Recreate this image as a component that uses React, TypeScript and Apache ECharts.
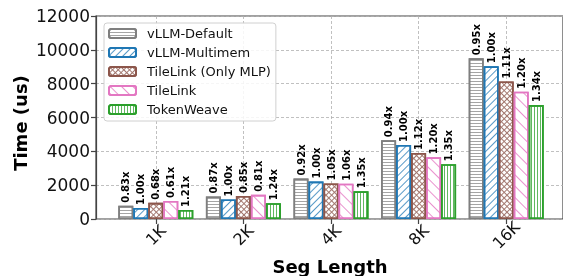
import React, { useEffect, useRef } from 'react';
import * as echarts from 'echarts';

const categories = ['1K', '2K', '4K', '8K', '16K'];
const seriesNames = ['vLLM-Default', 'vLLM-Multimem', 'TileLink (Only MLP)', 'TileLink', 'TokenWeave'];
const vllmDefault = [783, 1333, 2400, 4653, 9500];
const vllmMultimem = [650, 1160, 2210, 4374, 9027];
const tileLinkMlp = [956, 1365, 2105, 3905, 8132];
const tileLink = [1066, 1432, 2085, 3645, 7522];
const tokenWeave = [537, 935, 1637, 3240, 6736];
const speedupDefault = ['0.83x', '0.87x', '0.92x', '0.94x', '0.95x'];
const speedupMultimem = ['1.00x', '1.00x', '1.00x', '1.00x', '1.00x'];
const speedupTileLinkMlp = ['0.68x', '0.85x', '1.05x', '1.12x', '1.11x'];
const speedupTileLink = ['0.61x', '0.81x', '1.06x', '1.20x', '1.20x'];
const speedupTokenWeave = ['1.21x', '1.24x', '1.35x', '1.35x', '1.34x'];
const yMax = 12000;
const yInterval = 2000;

const FONT = 'DejaVu Sans';
const values = [vllmDefault, vllmMultimem, tileLinkMlp, tileLink, tokenWeave];
const labels = [speedupDefault, speedupMultimem, speedupTileLinkMlp, speedupTileLink, speedupTokenWeave];
const edgeColors = ['#7f7f7f', '#1f77b4', '#8c564b', '#e377c2', '#2ca02c'];
const decals: any[] = [
  { symbol: 'rect', symbolSize: 1, dashArrayX: [1, 0], dashArrayY: [1, 2], rotation: 0, color: 'rgba(127,127,127,0.7)', backgroundColor: '#fff' },
  { symbol: 'rect', symbolSize: 1, dashArrayX: [1, 4], dashArrayY: [1, 0], rotation: Math.PI / 4, color: 'rgba(31,119,180,0.75)', backgroundColor: '#fff' },
  { symbol: 'rect', symbolSize: 1, dashArrayX: [[1, 0], [1, 3], [1, 3], [1, 3]], dashArrayY: [1, 0], rotation: Math.PI / 4, color: 'rgba(140,86,75,0.8)', backgroundColor: '#fff' },
  { symbol: 'rect', symbolSize: 1, dashArrayX: [1, 7], dashArrayY: [1, 0], rotation: -Math.PI / 4, color: 'rgba(227,119,194,0.8)', backgroundColor: '#fff' },
  { symbol: 'rect', symbolSize: 1, dashArrayX: [1, 2], dashArrayY: [1, 0], rotation: 0, color: 'rgba(44,160,44,0.75)', backgroundColor: '#fff' },
];

export default function App() {
  const ref = useRef<HTMLDivElement>(null);
  useEffect(() => {
    const chart = echarts.init(ref.current!, null, { renderer: 'svg' });
    const series = seriesNames.map((name, i) => ({
      name,
      type: 'bar',
      xAxisIndex: 1,
      yAxisIndex: 1,
      barWidth: 15,
      barGap: '0%',
      data: values[i],
      itemStyle: {
        color: '#fff',
        borderColor: edgeColors[i],
        borderWidth: 1.6,
        decal: decals[i],
      },
      label: {
        show: true,
        position: 'top',
        rotate: 90,
        align: 'left',
        verticalAlign: 'middle',
        padding: [7, 0, 0, 0],
        distance: 3,
        fontSize: 10,
        fontWeight: 'bold',
        fontFamily: FONT,
        color: '#000',
        formatter: (p: any) => labels[i][p.dataIndex],
      },
    }));
    chart.setOption({
      animation: false,
      aria: { enabled: false },
      textStyle: { fontFamily: FONT },
      grid: [
        { left: 96, right: -3, top: 16, bottom: 57, show: true, borderColor: '#444', borderWidth: 1.2, backgroundColor: 'transparent' },
        { left: 112, right: 13, top: 16, bottom: 57 },
      ],
      xAxis: [
        { type: 'value', gridIndex: 0, show: false, min: 0, max: 1 },
        {
          type: 'category',
          gridIndex: 1,
          data: categories,
          axisLine: { show: false },
          axisTick: { show: true, alignWithLabel: true, length: 5, lineStyle: { color: '#444', width: 1.2 } },
          axisLabel: { rotate: 45, align: 'center', verticalAlign: 'middle', margin: 16, fontSize: 16, color: '#111', fontFamily: FONT },
          splitLine: { show: true, alignWithLabel: true, lineStyle: { color: '#b0b0b0', type: [3, 2], width: 0.8 } },
        },
      ],
      yAxis: [
        {
          type: 'value',
          gridIndex: 0,
          min: 0,
          max: yMax,
          interval: yInterval,
          axisLine: { show: true, lineStyle: { color: '#444', width: 1.2 } },
          axisTick: { show: true, length: 5, lineStyle: { color: '#444', width: 1.2 } },
          axisLabel: { fontSize: 17, color: '#111', margin: 6, fontFamily: FONT, formatter: (v: number) => String(v) },
          splitLine: { show: true, lineStyle: { color: '#b0b0b0', type: [3, 2], width: 0.8 } },
        },
        { type: 'value', gridIndex: 1, min: 0, max: yMax, show: false, splitLine: { show: false } },
      ],
      legend: {
        orient: 'vertical',
        left: 104,
        top: 23,
        itemWidth: 27,
        itemHeight: 9,
        itemGap: 6,
        padding: [4, 5, 5, 4],
        backgroundColor: 'rgba(255,255,255,0.85)',
        borderColor: '#d0d0d0',
        borderWidth: 1,
        borderRadius: 3,
        textStyle: { fontSize: 13, color: '#111', fontFamily: FONT, padding: [0, 0, 0, 6] },
        data: seriesNames,
      },
      graphic: [
        { type: 'text', x: 20, y: 123, rotation: Math.PI / 2, style: { text: 'Time (us)', font: `bold 18px "${FONT}"`, fill: '#000', align: 'center', verticalAlign: 'middle' } },
        { type: 'text', x: 330, y: 266, style: { text: 'Seg Length', font: `bold 18px "${FONT}"`, fill: '#000', align: 'center', verticalAlign: 'middle' } },
      ],
      series,
    });
    return () => chart.dispose();
  }, []);
  return <div ref={ref} style={{ position: 'fixed', left: 0, top: 0, width: 563, height: 276 }} />;
}
